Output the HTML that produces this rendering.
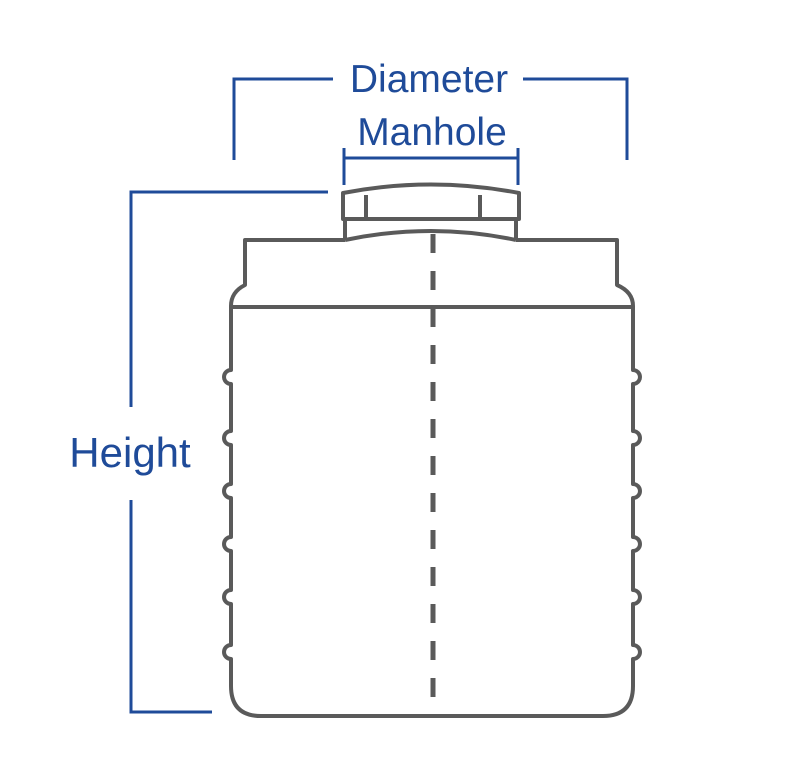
<!DOCTYPE html>
<html><head><style>html,body{margin:0;padding:0;background:#fff}svg{display:block}</style></head>
<body>
<svg width="785" height="772" viewBox="0 0 785 772" xmlns="http://www.w3.org/2000/svg">
<g fill="none" stroke="#1f4b99" stroke-width="3">
<path d="M234 160 V79 H333"/>
<path d="M523 79 H627 V160"/>
<path d="M344 148 V185 M344 158 H518 M518 148 V185"/>
<path d="M328 192 H131 V407"/>
<path d="M131 500 V712 H212"/>
</g>
<g fill="#1f4b99" font-family="Liberation Sans, Arial, sans-serif" font-size="39">
<text x="429" y="92" text-anchor="middle">Diameter</text>
<text x="432" y="145" text-anchor="middle">Manhole</text>
<text x="130" y="467" text-anchor="middle" font-size="42">Height</text>
</g>
<g fill="none" stroke="#5a5a5a" stroke-width="4" stroke-linejoin="round">
<path d="M343 219 V193 Q431 176 519 193 V219 Z"/>
<path d="M366 195 V219 M480 195 V219"/>
<path d="M345 220 V240 M516 220 V240"/>
<path d="M345 240 Q431 222 516 240"/>
<path d="M345 240 H245 V285 Q231 292 231 306 V370 a7 7 0 0 0 0 14 V431 a7 7 0 0 0 0 14 V484 a7 7 0 0 0 0 14 V537 a7 7 0 0 0 0 14 V590 a7 7 0 0 0 0 14 V645 a7 7 0 0 0 0 14 V686 Q231 716 261 716 H603 Q633 716 633 686 V659 a7 7 0 0 0 0 -14 V604 a7 7 0 0 0 0 -14 V551 a7 7 0 0 0 0 -14 V498 a7 7 0 0 0 0 -14 V445 a7 7 0 0 0 0 -14 V384 a7 7 0 0 0 0 -14 V306 Q633 292 617 285 V240 H516"/>
<path d="M231 307 H633"/>
<path d="M433 234 V716" stroke-width="5" stroke-dasharray="19 18"/>
</g>
</svg>
</body></html>
